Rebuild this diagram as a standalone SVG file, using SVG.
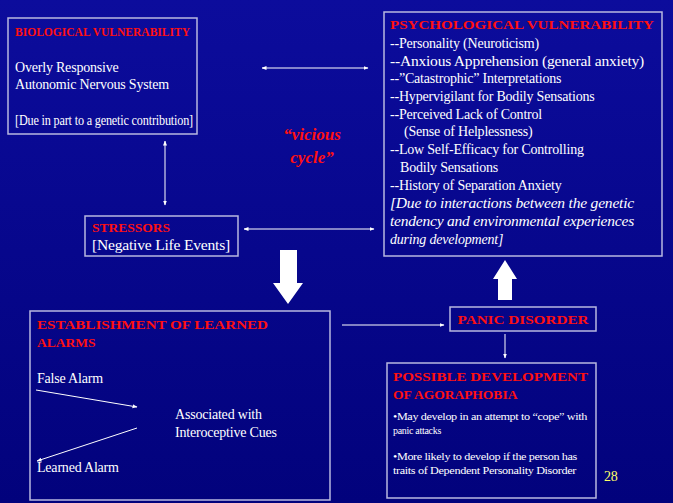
<svg xmlns="http://www.w3.org/2000/svg" width="673" height="503" viewBox="0 0 673 503" font-family="'Liberation Serif','Times New Roman',Times,'DejaVu Serif',serif">
<defs>
<linearGradient id="bg" x1="0" y1="0" x2="0" y2="1"><stop offset="0" stop-color="#0c0c9c"/><stop offset="1" stop-color="#02027c"/></linearGradient>
<marker id="a" viewBox="0 0 10 10" refX="9" refY="5" markerWidth="5" markerHeight="5" orient="auto-start-reverse"><path d="M0,1 L10,5 L0,9 z" fill="#fff"/></marker>
</defs>
<style>
.box{fill:none;stroke:#b8b8e0;stroke-width:1.5}
text{font-family:'Liberation Serif','Times New Roman',Times,serif;font-size:14px;fill:#fff;letter-spacing:-0.2px}
.h{fill:#ff1010;font-weight:bold;font-size:13.5px;letter-spacing:0}
.s{font-size:10px;letter-spacing:-0.3px}
.c{stroke:#fff;stroke-width:1;fill:none}
</style>
<rect width="673" height="503" fill="url(#bg)"/>
<g id="bio"><rect class="box" x="8" y="18" width="189" height="116"/>
<text class="h" x="15" y="36" textLength="175" lengthAdjust="spacingAndGlyphs">BIOLOGICAL VULNERABILITY</text>
<text x="15" y="72">Overly Responsive</text><text x="15" y="89">Autonomic Nervous System</text>
<text x="15" y="125" textLength="178" lengthAdjust="spacingAndGlyphs">[Due in part to a genetic contribution]</text></g>
<g id="psych"><rect class="box" x="384" y="12" width="278" height="244"/>
<text class="h" x="390" y="29" textLength="264" lengthAdjust="spacingAndGlyphs">PSYCHOLOGICAL VULNERABILITY</text>
<text x="390" y="48">--Personality (Neuroticism)</text>
<text x="390" y="66" textLength="254" lengthAdjust="spacingAndGlyphs">--Anxious Apprehension (general anxiety)</text>
<text x="390" y="83">--”Catastrophic” Interpretations</text>
<text x="390" y="101">--Hypervigilant for Bodily Sensations</text>
<text x="390" y="119">--Perceived Lack of Control</text>
<text x="404" y="136">(Sense of Helplessness)</text>
<text x="390" y="154">--Low Self-Efficacy for Controlling</text>
<text x="400" y="172">Bodily Sensations</text>
<text x="390" y="190">--History of Separation Anxiety</text>
<text x="390" y="208" font-style="italic" textLength="244" lengthAdjust="spacingAndGlyphs">[Due to interactions between the genetic</text>
<text x="390" y="226" font-style="italic" textLength="244" lengthAdjust="spacingAndGlyphs">tendency and environmental experiences</text>
<text x="390" y="244" font-style="italic">during development]</text></g>
<g id="vicious"><text class="h" x="312" y="140" text-anchor="middle" font-style="italic" style="font-size:17px">“vicious</text><text class="h" x="312" y="163" text-anchor="middle" font-style="italic" style="font-size:17px">cycle”</text></g>
<g id="stressors"><rect class="box" x="85" y="216" width="153" height="40"/>
<text class="h" x="92" y="232">STRESSORS</text><text x="92" y="250" textLength="138" lengthAdjust="spacingAndGlyphs">[Negative Life Events]</text></g>
<g id="learned"><rect class="box" x="30" y="311" width="300" height="189"/>
<text class="h" x="37" y="329" textLength="231" lengthAdjust="spacingAndGlyphs">ESTABLISHMENT OF LEARNED</text><text class="h" x="37" y="347">ALARMS</text>
<text x="37" y="383">False Alarm</text>
<text x="175" y="419">Associated with</text><text x="175" y="437">Interoceptive Cues</text>
<text x="37" y="472">Learned Alarm</text></g>
<g id="panic"><rect class="box" x="450" y="307" width="146" height="24"/>
<text class="h" x="523" y="324" text-anchor="middle" textLength="131" lengthAdjust="spacingAndGlyphs">PANIC DISORDER</text></g>
<g id="agora"><rect class="box" x="387" y="363" width="209" height="135"/>
<text class="h" x="393" y="381" textLength="195" lengthAdjust="spacingAndGlyphs">POSSIBLE DEVELOPMENT</text><text class="h" x="393" y="399">OF AGORAPHOBIA</text>
<text class="s" x="393" y="420" textLength="194" lengthAdjust="spacingAndGlyphs">•May develop in an attempt to “cope” with</text><text class="s" x="393" y="434">panic attacks</text>
<text class="s" x="393" y="460" textLength="184" lengthAdjust="spacingAndGlyphs">•More likely to develop if the person has</text><text class="s" x="393" y="474" textLength="183" lengthAdjust="spacingAndGlyphs">traits of Dependent Personality Disorder</text></g>
<text x="604" y="481" style="fill:#ffff66">28</text>
<g id="connectors">
<line class="c" x1="262" y1="68" x2="368" y2="68" marker-start="url(#a)" marker-end="url(#a)"/>
<line class="c" x1="165" y1="141" x2="165" y2="205" marker-start="url(#a)" marker-end="url(#a)"/>
<line class="c" x1="244" y1="229" x2="374" y2="229" marker-start="url(#a)" marker-end="url(#a)"/>
<polygon points="280,250 297,250 297,283 303,283 288,304 273,283 280,283" fill="#fff"/>
<polygon points="498,300 512,300 512,279 517,279 505,260 493,279 498,279" fill="#fff"/>
<line class="c" x1="342" y1="325" x2="444" y2="325" marker-end="url(#a)"/>
<line class="c" x1="505" y1="334" x2="505" y2="358" marker-end="url(#a)"/>
<line class="c" x1="36" y1="390" x2="137" y2="407" marker-end="url(#a)"/>
<line class="c" x1="137" y1="428" x2="37" y2="461" marker-end="url(#a)"/>
</g>
</svg>
